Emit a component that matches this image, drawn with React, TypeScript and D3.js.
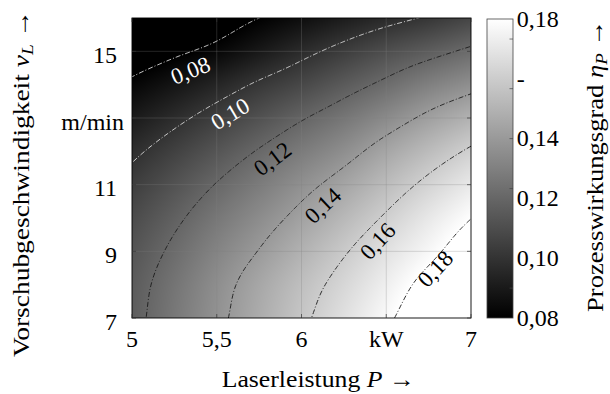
import React, { useMemo } from 'react';
import * as d3 from 'd3';

// ---- data ----
const powerKW = [5, 5.25, 5.5, 5.75, 6, 6.25, 6.5, 6.75, 7];
const speedMpm = [7, 8, 9, 10, 11, 12, 13, 14, 15, 16];
// rows: feed speed (7 .. 16 m/min), columns: laser power (5 .. 7 kW)
const efficiency = [
  [0.1165, 0.127, 0.1372, 0.1474, 0.1576, 0.1678, 0.178, 0.1882, 0.198],
  [0.1155, 0.1255, 0.1355, 0.1453, 0.1548, 0.1641, 0.1738, 0.1838, 0.1935],
  [0.113, 0.1222, 0.1316, 0.1404, 0.1496, 0.1589, 0.1682, 0.177, 0.187],
  [0.1092, 0.1178, 0.1266, 0.1348, 0.1433, 0.1522, 0.1614, 0.1708, 0.1798],
  [0.104, 0.1122, 0.1205, 0.1283, 0.1364, 0.1445, 0.1537, 0.1628, 0.1714],
  [0.0977, 0.1054, 0.1132, 0.1208, 0.1283, 0.1358, 0.1449, 0.1535, 0.1617],
  [0.09, 0.0972, 0.1045, 0.1117, 0.1191, 0.1262, 0.1342, 0.1425, 0.1498],
  [0.082, 0.088, 0.0945, 0.1016, 0.1081, 0.1154, 0.1225, 0.13, 0.1362],
  [0.0735, 0.0782, 0.0828, 0.0896, 0.0968, 0.1037, 0.1105, 0.1163, 0.1222],
  [0.0665, 0.0705, 0.0745, 0.08, 0.0851, 0.0908, 0.0962, 0.1013, 0.1072],
];
const contourLevels = [0.08, 0.1, 0.12, 0.14, 0.16, 0.18];
const contourLabelText = ['0,08', '0,10', '0,12', '0,14', '0,16', '0,18'];
const contourLabelP = [5.345, 5.58, 5.83, 6.127, 6.45, 6.79];
const contourLabelV = [14.42, 13.12, 11.77, 10.37, 9.3, 8.47];

const xTickValues = [5, 5.5, 6, 6.5, 7];
const xTickLabels = ['5', '5,5', '6', 'kW', '7'];
const yTickValues = [7, 9, 11, 13, 15];
const yTickLabels = ['7', '9', '11', 'm/min', '15'];
const cbTickValues = [0.08, 0.1, 0.12, 0.14, 0.16, 0.18];
const cbTickLabels = ['0,08', '0,10', '0,12', '0,14', '-', '0,18'];
const cbMinorTicks = [0.09, 0.1067, 0.1233, 0.14, 0.1567, 0.1733];

// ---- layout ----
const W = 610;
const H = 394;
const M = { left: 132, right: 471, top: 18, bottom: 318 };
const CB = { x: 487, w: 26, top: 19, bottom: 318 };
const FONT = '"Liberation Serif", "DejaVu Serif", serif';

const nP = powerKW.length;
const nV = speedMpm.length;

function cell(i: number, j: number): number {
  if (i < 0) return 2 * cell(0, j) - cell(1, j);
  if (i > nP - 1) return 2 * cell(nP - 1, j) - cell(nP - 2, j);
  if (j < 0) return 2 * cell(i, 0) - cell(i, 1);
  if (j > nV - 1) return 2 * cell(i, nV - 1) - cell(i, nV - 2);
  return efficiency[j][i];
}
function cr(p0: number, p1: number, p2: number, p3: number, t: number) {
  return 0.5 * (2 * p1 + (-p0 + p2) * t + (2 * p0 - 5 * p1 + 4 * p2 - p3) * t * t + (-p0 + 3 * p1 - 3 * p2 + p3) * t * t * t);
}
function field(P: number, v: number): number {
  const fi = (P - powerKW[0]) / (powerKW[1] - powerKW[0]);
  const fj = (v - speedMpm[0]) / (speedMpm[1] - speedMpm[0]);
  const i = Math.min(nP - 2, Math.max(0, Math.floor(fi)));
  const j = Math.min(nV - 2, Math.max(0, Math.floor(fj)));
  const t = fi - i;
  const u = fj - j;
  const rows = [-1, 0, 1, 2].map((dj) => cr(cell(i - 1, j + dj), cell(i, j + dj), cell(i + 1, j + dj), cell(i + 2, j + dj), t));
  return cr(rows[0], rows[1], rows[2], rows[3], u);
}

export default function App() {
  const x = d3.scaleLinear().domain([powerKW[0], powerKW[nP - 1]]).range([M.left, M.right]);
  const y = d3.scaleLinear().domain([speedMpm[0], speedMpm[nV - 1]]).range([M.bottom, M.top]);
  const color = d3.scaleLinear<string>().domain([0.08, 0.18]).range(['#000000', '#ffffff']).clamp(true);
  const cb = d3.scaleLinear().domain([0.08, 0.18]).range([CB.bottom, CB.top]);

  const imgURL = useMemo(() => {
    const w = Math.round(M.right - M.left);
    const h = Math.round(M.bottom - M.top);
    const canvas = document.createElement('canvas');
    canvas.width = w;
    canvas.height = h;
    const ctx = canvas.getContext('2d');
    if (!ctx) return '';
    const img = ctx.createImageData(w, h);
    for (let py = 0; py < h; py++) {
      const v = y.invert(M.top + py + 0.5);
      for (let px = 0; px < w; px++) {
        const P = x.invert(M.left + px + 0.5);
        const c = d3.rgb(color(field(P, v)));
        const k = (py * w + px) * 4;
        img.data[k] = c.r;
        img.data[k + 1] = c.g;
        img.data[k + 2] = c.b;
        img.data[k + 3] = 255;
      }
    }
    ctx.putImageData(img, 0, 0);
    return canvas.toDataURL();
  }, []);

  const contourPaths = useMemo(() => {
    const pad = 3;
    const nx = 341 + 2 * pad;
    const ny = 301 + 2 * pad;
    const dp = 2 / 340;
    const dv = 9 / 300;
    const vals: number[] = new Array(nx * ny);
    for (let j = 0; j < ny; j++) {
      const v = 16 - (j - pad) * dv;
      for (let i = 0; i < nx; i++) {
        const P = 5 + (i - pad) * dp;
        vals[j * nx + i] = field(P, v);
      }
    }
    const cs = d3.contours().size([nx, ny]).thresholds(contourLevels)(vals);
    const proj = d3.geoTransform({
      point(cx: number, cy: number) {
        const P = 5 + (cx - 0.5 - pad) * dp;
        const v = 16 - (cy - 0.5 - pad) * dv;
        (this as any).stream.point(x(P), y(v));
      },
    });
    const path = d3.geoPath(proj);
    return cs.map((c) => ({ value: c.value, d: path(c as any) || '' }));
  }, []);

  const labels = contourLabelText.map((txt, k) => {
    const px = x(contourLabelP[k]);
    const py = y(contourLabelV[k]);
    const f = (a: number, b: number) => field(x.invert(a), y.invert(b));
    const gx = (f(px + 1, py) - f(px - 1, py)) / 2;
    const gy = (f(px, py + 1) - f(px, py - 1)) / 2;
    let tx = gy;
    let ty = -gx;
    if (tx < 0) {
      tx = -tx;
      ty = -ty;
    }
    const ang = (Math.atan2(ty, tx) * 180) / Math.PI;
    return { txt, px, py, ang, light: contourLevels[k] < 0.11 };
  });

  const tickLen = 4;

  return (
    <svg width={W} height={H} style={{ position: 'absolute', left: 0, top: 0, background: '#fff' }} fontFamily={FONT}>
      <defs>
        <clipPath id="plotClip">
          <rect x={M.left} y={M.top} width={M.right - M.left} height={M.bottom - M.top} />
        </clipPath>
        <linearGradient id="cbGrad" x1="0" y1="1" x2="0" y2="0">
          {d3.range(0, 1.0001, 0.1).map((t) => (
            <stop key={t} offset={t} stopColor={color(0.08 + t * 0.1)} />
          ))}
        </linearGradient>
      </defs>

      <image href={imgURL} x={M.left} y={M.top} width={M.right - M.left} height={M.bottom - M.top} preserveAspectRatio="none" />

      {/* grid */}
      <g stroke="#808080" strokeOpacity={0.4} strokeWidth={0.7}>
        {xTickValues.slice(1, -1).map((t) => (
          <line key={'gx' + t} x1={x(t)} x2={x(t)} y1={M.top} y2={M.bottom} />
        ))}
        {yTickValues.slice(1).map((t) => (
          <line key={'gy' + t} x1={M.left} x2={M.right} y1={y(t)} y2={y(t)} />
        ))}
      </g>

      {/* contour lines */}
      <g clipPath="url(#plotClip)" fill="none" strokeWidth={0.9} strokeDasharray="5 2 1 2">
        {contourPaths.map((c) => (
          <path key={c.value} d={c.d} stroke={c.value < 0.11 ? '#e8e8e8' : '#1a1a1a'} />
        ))}
      </g>

      {/* contour labels */}
      {labels.map((l) => (
        <text
          key={l.txt}
          x={0}
          y={0}
          transform={`translate(${l.px},${l.py}) rotate(${l.ang})`}
          textAnchor="middle"
          dominantBaseline="central"
          fontSize={23}
          fill={l.light ? '#ffffff' : '#000000'}
        >
          {l.txt}
        </text>
      ))}

      {/* frame and ticks */}
      <rect x={M.left} y={M.top} width={M.right - M.left} height={M.bottom - M.top} fill="none" stroke="#000" strokeWidth={0.9} />
      <g stroke="#333" strokeWidth={0.7}>
        {xTickValues.map((t) => (
          <g key={'tx' + t}>
            <line x1={x(t)} x2={x(t)} y1={M.bottom} y2={M.bottom - tickLen} />
            <line x1={x(t)} x2={x(t)} y1={M.top} y2={M.top + tickLen} />
          </g>
        ))}
        {yTickValues.map((t) => (
          <g key={'ty' + t}>
            <line x1={M.left} x2={M.left + tickLen} y1={y(t)} y2={y(t)} />
            <line x1={M.right} x2={M.right - tickLen} y1={y(t)} y2={y(t)} />
          </g>
        ))}
      </g>

      {/* tick labels */}
      <g fontSize={24} fill="#000">
        {xTickValues.map((t, k) => (
          <text key={'xl' + t} x={x(t)} y={M.bottom + 29} textAnchor="middle">
            {xTickLabels[k]}
          </text>
        ))}
        {yTickValues.map((t, k) => (
          <text key={'yl' + t} x={yTickLabels[k].length > 2 ? M.left - 8 : M.left - 15} y={y(t) + 11.5} textAnchor="end">
            {yTickLabels[k]}
          </text>
        ))}
      </g>

      {/* colorbar */}
      <rect x={CB.x} y={CB.top} width={CB.w} height={CB.bottom - CB.top} fill="url(#cbGrad)" stroke="#444" strokeWidth={0.8} />
      <g stroke="#444" strokeWidth={0.7}>
        {cbMinorTicks.map((t) => (
          <line key={'cbt' + t} x1={CB.x + CB.w - 3.5} x2={CB.x + CB.w} y1={cb(t)} y2={cb(t)} />
        ))}
      </g>
      <g fontSize={24} fill="#000">
        {cbTickValues.map((t, k) => (
          <text key={'cbl' + t} x={CB.x + CB.w + 3.7} y={cb(t) + 7.8}>
            {cbTickLabels[k]}
          </text>
        ))}
      </g>

      {/* axis titles */}
      <text x={221.7} y={387} fontSize={24} textLength={193} lengthAdjust="spacingAndGlyphs">
        Laserleistung <tspan fontStyle="italic">P</tspan> →
      </text>
      <text transform="translate(29.3,357) rotate(-90)" fontSize={24} textLength={347} lengthAdjust="spacingAndGlyphs">
        Vorschubgeschwindigkeit <tspan fontStyle="italic">v</tspan>
        <tspan fontStyle="italic" fontSize={17} dy={4}>L</tspan>
        <tspan dy={-4}> →</tspan>
      </text>
      <text transform="translate(603,312) rotate(-90)" fontSize={24} textLength={292} lengthAdjust="spacingAndGlyphs">
        Prozesswirkungsgrad <tspan fontStyle="italic">η</tspan>
        <tspan fontStyle="italic" fontSize={17} dy={4}>P</tspan>
        <tspan dy={-4}> →</tspan>
      </text>
    </svg>
  );
}
